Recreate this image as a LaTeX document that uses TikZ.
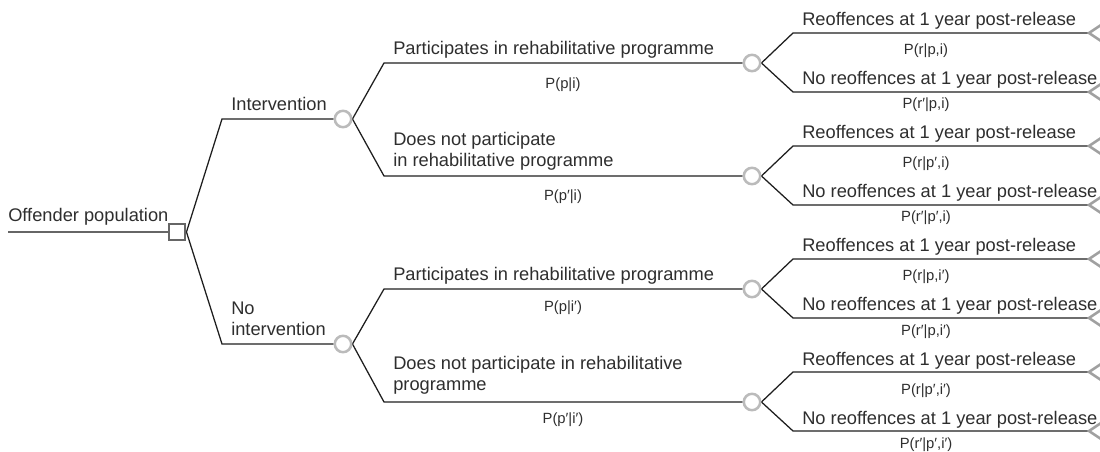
\documentclass[tikz,border=0pt]{standalone}
\usepackage{fontspec}
\setmainfont{Liberation Sans}
\definecolor{ink}{HTML}{2E2E2E}
\definecolor{edge}{HTML}{1E1E1E}
\definecolor{chance}{HTML}{BBBBBB}
\definecolor{decision}{HTML}{666666}
\definecolor{term}{HTML}{A0A0A0}
\pgfdeclarelayer{bg}
\pgfsetlayers{bg,main}
\tikzset{
  lbl/.style={font=\fontsize{13.7}{15.8}\selectfont, text=ink, inner sep=0pt, anchor=base west, align=left},
  prob/.style={font=\fontsize{11.1}{13}\selectfont, text=ink, inner sep=0pt, anchor=base},
  branch/.style={draw=edge, line width=0.95pt},
  rootline/.style={draw=decision, line width=1.6pt},
  chancenode/.style={circle, draw=chance, line width=1.9pt, fill=white, minimum size=12.3pt, inner sep=0pt},
  decisionnode/.style={rectangle, draw=decision, line width=2.2pt, fill=white, minimum size=12pt, inner sep=0pt},
  endmark/.style={draw=term, line width=1.9pt, line join=miter},
}
\begin{document}
\begin{tikzpicture}[x=0.75pt, y=-0.75pt]
\useasboundingbox (0,0) rectangle (1100,452);

% decision node and its incoming line
\coordinate (start) at (8,232);
\node[decisionnode] (dec) at (177,232) {};
\node[lbl] (offl) at (8,222) {Offender population};

% first chance level
\node[chancenode] (ci) at (343,119) {};
\node[chancenode] (cn) at (343,344) {};
\coordinate (ki) at (222,119);
\coordinate (kn) at (222,344);
\node[lbl] (intl) at (231,111) {Intervention};
% multi-line labels are placed by the baseline of their last line
\node[lbl] (nointl) at (231,336) {No\\intervention};

% second chance level
\node[chancenode] (a1) at (752,63) {};
\node[chancenode] (a2) at (752,176) {};
\node[chancenode] (a3) at (752,289) {};
\node[chancenode] (a4) at (752,402) {};
\coordinate (k1) at (384,63);
\coordinate (k2) at (384,176);
\coordinate (k3) at (384,289);
\coordinate (k4) at (384,402);

\node[lbl] (l1) at (393,55) {Participates in rehabilitative programme};
\node[prob] (q1) at (563,89) {P(p|i)};
\node[lbl] (l2) at (393,167) {Does not participate\\in rehabilitative programme};
\node[prob] (q2) at (563,201) {P(p′|i)};
\node[lbl] (l3) at (393,281) {Participates in rehabilitative programme};
\node[prob] (q3) at (563,312) {P(p|i′)};
\node[lbl] (l4) at (393,391) {Does not participate in rehabilitative\\programme};
\node[prob] (q4) at (563,423) {P(p′|i′)};

\begin{pgfonlayer}{bg}
  \draw[rootline] (start) -- (dec.west);
  \draw[branch] (dec.east) -- (ki) -- (ci.west);
  \draw[branch] (dec.east) -- (kn) -- (cn.west);
  \draw[branch] (ci.east) -- (k1) -- (a1.west);
  \draw[branch] (ci.east) -- (k2) -- (a2.west);
  \draw[branch] (cn.east) -- (k3) -- (a3.west);
  \draw[branch] (cn.east) -- (k4) -- (a4.west);
\end{pgfonlayer}

% outcome branches with terminal marks
\foreach \k/\y/\pu/\pl in {
  1/63/{P(r|p,i)}/{P(r′|p,i)},
  2/176/{P(r|p′,i)}/{P(r′|p′,i)},
  3/289/{P(r|p,i′)}/{P(r′|p,i′)},
  4/402/{P(r|p′,i′)}/{P(r′|p′,i′)}}{
  \coordinate (u\k) at (793,\y-30);
  \coordinate (d\k) at (793,\y+29);
  \coordinate (tu\k) at (1089,\y-30);
  \coordinate (td\k) at (1089,\y+29);
  \begin{pgfonlayer}{bg}
    \draw[branch] (a\k.east) -- (u\k) -- (tu\k);
    \draw[branch] (a\k.east) -- (d\k) -- (td\k);
  \end{pgfonlayer}
  \draw[endmark] (tu\k) ++(12,-8) -- (tu\k) -- ++(12,8);
  \draw[endmark] (td\k) ++(12,-8) -- (td\k) -- ++(12,8);
  \node[lbl] (ru\k) at (802,\y-37) {Reoffences at 1 year post-release};
  \node[prob] (pu\k) at (926,\y-8) {\pu};
  \node[lbl] (rd\k) at (802,\y+22) {No reoffences at 1 year post-release};
  \node[prob] (pd\k) at (926,\y+46) {\pl};
}
\end{tikzpicture}
\end{document}
